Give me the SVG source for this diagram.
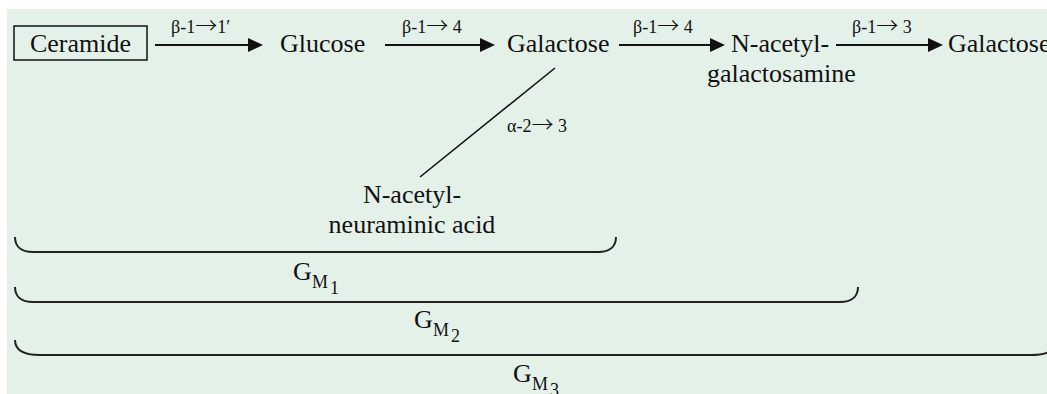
<svg xmlns="http://www.w3.org/2000/svg" width="1047" height="394" viewBox="0 0 1047 394">
  <style>
    .t { font-family: "Liberation Serif", "Times New Roman", serif; font-size: 26px; fill: #111; }
    .lab { font-family: "Liberation Serif", "Times New Roman", serif; font-size: 18px; fill: #111; }
    .ar { font-family: "Noto Sans CJK SC", "DejaVu Sans", sans-serif; font-size: 22px; font-weight: 300; }
    .sub { font-family: "Liberation Serif", "Times New Roman", serif; font-size: 18px; fill: #111; }
    .arr { stroke: #111; stroke-width: 2; fill: none; marker-end: url(#ah); }
    .brace { stroke: #222; stroke-width: 2; fill: none; }
  </style>
  <defs>
    <marker id="ah" markerUnits="userSpaceOnUse" markerWidth="16" markerHeight="14" refX="3" refY="7" orient="auto">
      <path d="M0,0 L15,7 L0,14 z" fill="#111"/>
    </marker>
  </defs>
  <rect x="7" y="9" width="1040" height="385" fill="#e4f1e9"/>

  <g id="ceramide">
    <rect x="14" y="26" width="133" height="34" fill="none" stroke="#111" stroke-width="1.5"/>
    <text class="t" x="80.5" y="52" text-anchor="middle">Ceramide</text>
  </g>
  <g id="glucose"><text class="t" x="280" y="52">Glucose</text></g>
  <g id="galactose1"><text class="t" x="507" y="52">Galactose</text></g>
  <g id="galnac">
    <text class="t" x="731" y="52">N-acetyl-</text>
    <text class="t" x="707" y="82">galactosamine</text>
  </g>
  <g id="galactose2"><text class="t" x="948" y="52">Galactose</text></g>
  <g id="neuac">
    <text class="t" x="412" y="203" text-anchor="middle">N-acetyl-</text>
    <text class="t" x="412" y="233" text-anchor="middle">neuraminic acid</text>
  </g>

  <g id="connectors">
    <line class="arr" x1="155" y1="45" x2="251" y2="45"/>
    <text class="lab" x="171" y="33">β-1<tspan class="ar">→</tspan>1′</text>
    <line class="arr" x1="385" y1="45" x2="483" y2="45"/>
    <text class="lab" x="402" y="33">β-1<tspan class="ar">→</tspan> 4</text>
    <line class="arr" x1="619" y1="45" x2="713" y2="45"/>
    <text class="lab" x="633" y="33">β-1<tspan class="ar">→</tspan> 4</text>
    <line class="arr" x1="836" y1="45" x2="931" y2="45"/>
    <text class="lab" x="852" y="33">β-1<tspan class="ar">→</tspan> 3</text>
    <line x1="555" y1="68" x2="420" y2="177" stroke="#111" stroke-width="1.6"/>
    <text class="lab" x="507" y="132">α-2<tspan class="ar">→</tspan> 3</text>
  </g>

  <g id="gm1">
    <path class="brace" d="M15,237 C15,247 22,252 33,252 L598,252 C609,252 616,247 616,237"/>
    <text class="t" x="293" y="280">G</text>
    <text class="sub" x="312" y="288">M</text>
    <text class="sub" x="330" y="294">1</text>
  </g>
  <g id="gm2">
    <path class="brace" d="M15,287 C15,297 22,302 33,302 L840,302 C851,302 858,297 858,287"/>
    <text class="t" x="414" y="328">G</text>
    <text class="sub" x="433" y="336">M</text>
    <text class="sub" x="451" y="342">2</text>
  </g>
  <g id="gm3">
    <path class="brace" d="M15,340 C15,350 24,355 40,355 L1031,355 C1047,355 1057,350 1057,340"/>
    <text class="t" x="513" y="382">G</text>
    <text class="sub" x="532" y="390">M</text>
    <text class="sub" x="550" y="396">3</text>
  </g>
</svg>
